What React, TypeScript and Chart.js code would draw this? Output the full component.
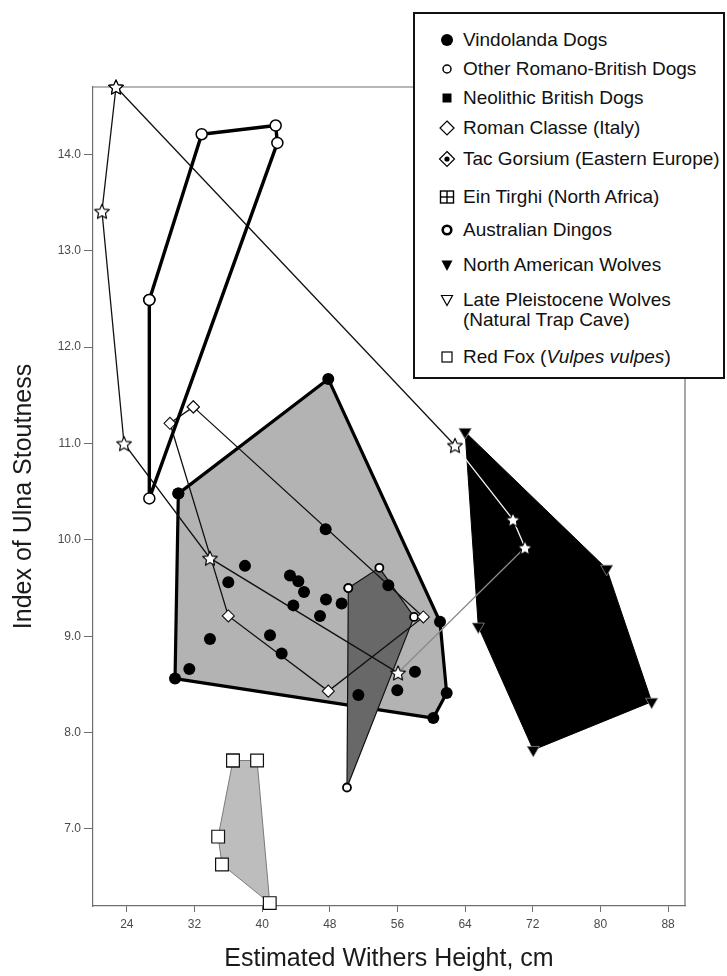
import React, { useEffect, useRef } from 'react';
import { Chart, registerables } from 'chart.js';

Chart.register(...registerables);

type Pt = [number, number];

// ---- axes ----
const X_MIN = 20;
const X_MAX = 90;
const Y_MIN = 6.2;
const Y_MAX = 14.7;
const xTicks = [24, 32, 40, 48, 56, 64, 72, 80, 88];
const yTicks = [7, 8, 9, 10, 11, 12, 13, 14];
const xTitle = 'Estimated Withers Height, cm';
const yTitle = 'Index of Ulna Stoutness';

// ---- data (x = withers height cm, y = ulna stoutness index) ----
const vindolandaHull: Pt[] = [
  [30.09, 10.48], [47.82, 11.67], [61.03, 9.15], [61.82, 8.41], [60.24, 8.15], [29.7, 8.56],
];
const vindolandaInner: Pt[] = [
  [47.51, 10.11], [37.97, 9.73], [36.0, 9.56], [43.29, 9.63], [44.28, 9.57], [44.95, 9.46],
  [43.69, 9.32], [47.55, 9.38], [49.4, 9.34], [46.84, 9.21], [54.92, 9.53], [33.83, 8.97],
  [40.93, 9.01], [42.31, 8.82], [31.39, 8.66], [51.38, 8.39], [58.07, 8.63], [55.98, 8.44],
];
const otherRomanoBritish: Pt[] = [[50.19, 9.5], [53.86, 9.71], [57.96, 9.2], [50.03, 7.43]];
const australianDingos: Pt[] = [[26.66, 12.49], [32.85, 14.21], [41.6, 14.3], [41.8, 14.12], [26.66, 10.43]];
const romanClasse: Pt[] = [[31.86, 11.38], [59.06, 9.2], [47.82, 8.43], [36.0, 9.21], [29.1, 11.21]];
const starGroup: Pt[] = [
  [22.72, 14.7], [21.06, 13.41], [23.67, 11.0], [33.83, 9.81], [56.07, 8.62],
  [71.08, 9.92], [69.66, 10.21], [62.8, 10.98],
];
const northAmericanWolves: Pt[] = [[64.0, 11.12], [80.74, 9.7], [86.06, 8.32], [72.06, 7.82], [65.56, 9.1]];
const redFox: Pt[] = [[36.55, 7.71], [39.4, 7.71], [40.9, 6.23], [35.25, 6.63], [34.8, 6.92]];

// ---- legend ----
const legendEntries: { kind: string; label: string; italic?: string }[] = [
  { kind: 'dot', label: 'Vindolanda Dogs' },
  { kind: 'smallCircle', label: 'Other Romano-British Dogs' },
  { kind: 'square', label: 'Neolithic British Dogs' },
  { kind: 'diamond', label: 'Roman Classe (Italy)' },
  { kind: 'diamondDot', label: 'Tac Gorsium (Eastern Europe)' },
  { kind: 'crossSquare', label: 'Ein Tirghi (North Africa)' },
  { kind: 'boldCircle', label: 'Australian Dingos' },
  { kind: 'triFilled', label: 'North American Wolves' },
  { kind: 'triOpen', label: 'Late Pleistocene Wolves\n(Natural Trap Cave)' },
  { kind: 'openSquare', label: 'Red Fox ', italic: 'Vulpes vulpes' },
];

const FONT = '"Liberation Sans", Arial, Helvetica, sans-serif';

const pts = (a: Pt[]) => a.map(([x, y]) => ({ x, y }));
const closed = (a: Pt[]) => {
  const p = pts(a);
  return [...p, p[0]];
};

function starImage(size: number): HTMLCanvasElement {
  const c = document.createElement('canvas');
  c.width = size;
  c.height = size;
  const g = c.getContext('2d') as CanvasRenderingContext2D;
  const cx = size / 2;
  const cy = size / 2 + 0.8;
  const R = size / 2 - 1.3;
  const r = R * 0.47;
  g.beginPath();
  for (let i = 0; i < 10; i++) {
    const ang = -Math.PI / 2 + (i * Math.PI) / 5;
    const rad = i % 2 === 0 ? R : r;
    const px = cx + rad * Math.cos(ang);
    const py = cy + rad * Math.sin(ang);
    if (i === 0) g.moveTo(px, py);
    else g.lineTo(px, py);
  }
  g.closePath();
  g.fillStyle = '#ffffff';
  g.fill();
  g.lineJoin = 'round';
  g.lineWidth = 1.2;
  g.strokeStyle = '#000000';
  g.stroke();
  return c;
}

const framePlugin = {
  id: 'frame',
  beforeDatasetsDraw(chart: any) {
    const { ctx, chartArea: a } = chart;
    ctx.save();
    ctx.strokeStyle = '#6f6f6f';
    ctx.lineWidth = 1.2;
    ctx.beginPath();
    ctx.moveTo(a.left, a.top);
    ctx.lineTo(a.right, a.top);
    ctx.lineTo(a.right, a.bottom);
    ctx.stroke();
    ctx.restore();
  },
};

function Marker({ kind }: { kind: string }) {
  const s = { width: 18, height: 18, display: 'block' } as React.CSSProperties;
  let body: React.ReactNode = null;
  switch (kind) {
    case 'dot':
      body = <circle cx={9} cy={9} r={6} fill="#000" />;
      break;
    case 'smallCircle':
      body = <circle cx={9} cy={9} r={4} fill="#fff" stroke="#000" strokeWidth={1.5} />;
      break;
    case 'square':
      body = <rect x={4.5} y={4.5} width={9} height={9} fill="#000" />;
      break;
    case 'diamond':
      body = <polygon points="9,2 16,9 9,16 2,9" fill="#fff" stroke="#000" strokeWidth={1.2} />;
      break;
    case 'diamondDot':
      body = (
        <g>
          <polygon points="9,1.5 16.5,9 9,16.5 1.5,9" fill="#fff" stroke="#000" strokeWidth={1.2} />
          <circle cx={9} cy={9} r={2.6} fill="#000" />
        </g>
      );
      break;
    case 'crossSquare':
      body = (
        <g fill="none" stroke="#000" strokeWidth={1.4}>
          <rect x={2.5} y={3} width={13} height={12} fill="#fff" />
          <line x1={9} y1={3} x2={9} y2={15} />
          <line x1={2.5} y1={9} x2={15.5} y2={9} />
        </g>
      );
      break;
    case 'boldCircle':
      body = <circle cx={9} cy={9} r={4.3} fill="#fff" stroke="#000" strokeWidth={2.6} />;
      break;
    case 'triFilled':
      body = <polygon points="3.5,4.5 14.5,4.5 9,15" fill="#000" />;
      break;
    case 'triOpen':
      body = <polygon points="3.5,4.5 14.5,4.5 9,14.5" fill="#fff" stroke="#000" strokeWidth={1.2} />;
      break;
    case 'openSquare':
      body = <rect x={4} y={4} width={10} height={10} fill="#fff" stroke="#000" strokeWidth={1.2} />;
      break;
  }
  return (
    <svg style={s} viewBox="0 0 18 18">
      {body}
    </svg>
  );
}

function Legend() {
  const centers = [26, 55, 84, 114, 145, 183, 216, 251, 286, 343];
  return (
    <div
      style={{
        position: 'absolute',
        left: 413,
        top: 12,
        width: 312,
        height: 367,
        boxSizing: 'border-box',
        border: '2px solid #111',
        background: '#fff',
        fontFamily: FONT,
        fontSize: 19,
        color: '#111',
      }}
    >
      {legendEntries.map((e, i) => (
        <div key={i} style={{ position: 'absolute', left: 0, top: centers[i] - 10, width: 300 }}>
          <div style={{ position: 'absolute', left: 23, top: 1 }}>
            <Marker kind={e.kind} />
          </div>
          <div style={{ position: 'absolute', left: 48, top: 0, lineHeight: '20px', whiteSpace: 'pre' }}>
            {e.label}
            {e.italic ? (
              <>
                (<i>{e.italic}</i>)
              </>
            ) : null}
          </div>
        </div>
      ))}
    </div>
  );
}

export default function App() {
  const canvasRef = useRef<HTMLCanvasElement | null>(null);

  useEffect(() => {
    const canvas = canvasRef.current;
    if (!canvas) return;
    const star = starImage(18);

    const common = { clip: false as any, pointHoverRadius: undefined as any };

    const datasets: any[] = [
      {
        type: 'line',
        label: 'Red Fox',
        data: closed(redFox),
        order: 90,
        fill: 'shape',
        backgroundColor: '#bdbdbd',
        borderColor: '#7a7a7a',
        borderWidth: 1,
        pointStyle: 'rect',
        pointRadius: 9,
        pointBackgroundColor: '#fff',
        pointBorderColor: '#111',
        pointBorderWidth: 1.2,
        clip: false,
      },
      {
        type: 'line',
        label: 'Vindolanda Dogs hull',
        data: closed(vindolandaHull),
        order: 80,
        fill: 'shape',
        backgroundColor: '#b3b3b3',
        borderColor: '#000',
        borderWidth: 3.2,
        borderJoinStyle: 'round',
        pointStyle: 'circle',
        pointRadius: 6,
        pointBackgroundColor: '#000',
        pointBorderColor: '#000',
        pointBorderWidth: 0,
        clip: false,
      },
      {
        type: 'line',
        label: 'Other Romano-British Dogs',
        data: closed(otherRomanoBritish),
        order: 70,
        fill: 'shape',
        backgroundColor: '#686868',
        borderColor: '#111',
        borderWidth: 1.2,
        pointStyle: 'circle',
        pointRadius: 4,
        pointBackgroundColor: '#fff',
        pointBorderColor: '#000',
        pointBorderWidth: 1.8,
        clip: false,
      },
      {
        type: 'line',
        label: 'North American Wolves',
        data: closed(northAmericanWolves),
        order: 60,
        fill: 'shape',
        backgroundColor: '#000',
        borderColor: '#000',
        borderWidth: 1,
        pointStyle: 'triangle',
        pointRotation: 180,
        pointRadius: 7,
        pointBackgroundColor: '#000',
        pointBorderColor: '#8a8a8a',
        pointBorderWidth: 0.8,
        clip: false,
      },
      {
        type: 'line',
        label: 'Roman Classe (Italy)',
        data: closed(romanClasse),
        order: 50,
        fill: false,
        borderColor: '#111',
        borderWidth: 1.3,
        pointStyle: 'rectRot',
        pointRadius: 6,
        pointBackgroundColor: '#fff',
        pointBorderColor: '#111',
        pointBorderWidth: 1.1,
        clip: false,
      },
      {
        type: 'line',
        label: 'Star group',
        data: closed(starGroup),
        order: 40,
        fill: false,
        borderColor: '#111',
        borderWidth: 1.3,
        segment: {
          borderColor: (c: any) =>
            c.p0DataIndex === 5 || c.p0DataIndex === 6 ? '#f4f4f4' : c.p0DataIndex === 4 ? '#8a8a8a' : '#111',
        },
        pointStyle: star,
        pointRadius: 8,
        clip: false,
      },
      {
        type: 'line',
        label: 'Australian Dingos',
        data: closed(australianDingos),
        order: 30,
        fill: false,
        borderColor: '#000',
        borderWidth: 3.4,
        borderJoinStyle: 'round',
        pointStyle: 'circle',
        pointRadius: 5.5,
        pointBackgroundColor: '#fff',
        pointBorderColor: '#000',
        pointBorderWidth: 1.5,
        clip: false,
      },
      {
        type: 'scatter',
        label: 'Vindolanda Dogs',
        data: pts(vindolandaInner),
        order: 20,
        pointStyle: 'circle',
        pointRadius: 6,
        pointBackgroundColor: '#000',
        pointBorderColor: '#000',
        pointBorderWidth: 0,
        clip: false,
      },
    ];
    void common;

    const tickFont = { family: FONT, size: 12 };
    const titleFont = { family: FONT, size: 25 };

    const chart = new Chart(canvas, {
      type: 'scatter',
      data: { datasets },
      plugins: [framePlugin],
      options: {
        animation: false,
        responsive: false,
        maintainAspectRatio: false,
        events: [],
        layout: { padding: { left: 0, top: 87, right: 42, bottom: 0 } },
        plugins: {
          legend: { display: false },
          tooltip: { enabled: false },
        },
        scales: {
          x: {
            type: 'linear',
            min: X_MIN,
            max: X_MAX,
            afterBuildTicks: (axis: any) => {
              axis.ticks = xTicks.map((v) => ({ value: v }));
            },
            afterFit: (scale: any) => {
              scale.height = 70;
            },
            grid: { drawOnChartArea: false, drawTicks: true, tickLength: 6, color: '#6f6f6f', lineWidth: 1 },
            border: { display: true, color: '#6f6f6f', width: 1.2 },
            ticks: { font: tickFont, color: '#4a4a4a', padding: 5, maxRotation: 0, callback: (v: any) => String(v) },
            title: { display: true, text: xTitle, font: titleFont, color: '#1a1a1a', padding: { top: 0, bottom: 2 } },
          },
          y: {
            type: 'linear',
            min: Y_MIN,
            max: Y_MAX,
            afterBuildTicks: (axis: any) => {
              axis.ticks = yTicks.map((v) => ({ value: v }));
            },
            afterFit: (scale: any) => {
              scale.width = 93;
            },
            grid: { drawOnChartArea: false, drawTicks: true, tickLength: 9, color: '#6f6f6f', lineWidth: 1 },
            border: { display: true, color: '#6f6f6f', width: 1.2 },
            ticks: { font: tickFont, color: '#4a4a4a', padding: 3, callback: (v: any) => Number(v).toFixed(1) },
            title: { display: true, text: yTitle, font: titleFont, color: '#1a1a1a', padding: { top: 9, bottom: 0 } },
          },
        },
      } as any,
    });

    return () => {
      chart.destroy();
    };
  }, []);

  return (
    <div style={{ position: 'absolute', left: 0, top: 0, width: 727, height: 976, background: '#fff', overflow: 'hidden' }}>
      <canvas ref={canvasRef} width={727} height={976} style={{ display: 'block', width: 727, height: 976 }} />
      <Legend />
    </div>
  );
}
